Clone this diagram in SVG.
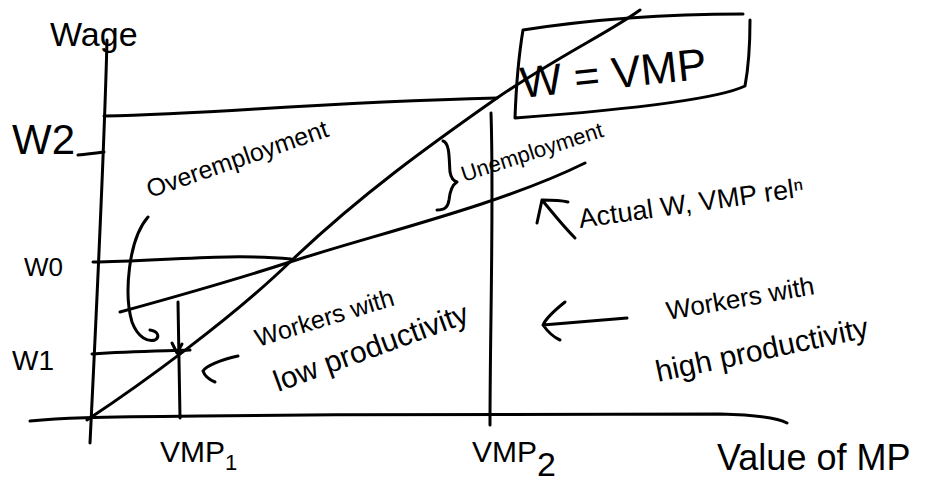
<svg xmlns="http://www.w3.org/2000/svg" width="946" height="489" viewBox="0 0 946 489">
  <style>
    .ink { fill: none; stroke: #000; stroke-width: 3; stroke-linecap: round; stroke-linejoin: round; }
    .hand { font-family: "Liberation Sans", "DejaVu Sans", sans-serif; fill: #000; }
  </style>
  <rect width="946" height="489" fill="#fff"/>

  <!-- axes -->
  <g id="axes" class="ink">
    <path d="M107,40 C104,160 97,300 90,443"/>
    <path d="M30,421 C60,418 90,417 200,416 C400,414 650,413 720,414 C760,415 780,419 787,423"/>
  </g>

  <!-- wage levels and VMP guides -->
  <g id="guides" class="ink">
    <path d="M104,116 C220,114 300,103 497,98"/>
    <path d="M78,155 C88,154 96,153 104,152"/>
    <path d="M93,262 C160,261 230,253 291,259"/>
    <path d="M92,354 C130,351 160,351 190,350"/>
    <path d="M178,302 L180,418"/>
    <path d="M172,343 L177,353 L182,344"/>
    <path d="M491,113 C494,200 490,330 490,425"/>
  </g>

  <!-- W = VMP line and actual wage line -->
  <g id="curves" class="ink">
    <path d="M87,420 C140,385 230,320 290,262 C360,195 430,145 497,98 C560,55 610,32 640,10"/>
    <path d="M120,312 C200,290 250,275 290,262 C380,233 500,205 585,163"/>
  </g>

  <!-- boxed rule -->
  <g id="rule-box">
    <path class="ink" d="M523,30 C600,18 680,14 743,14 M750,20 C750,45 748,70 745,86 C720,98 650,108 515,118 C516,90 518,60 523,30"/>
    <text class="hand" x="522" y="98" font-size="44" transform="rotate(-6 522 98)">W = VMP</text>
  </g>

  <!-- annotations -->
  <g id="annotations">
    <path class="ink" d="M148,217 C128,240 124,295 132,322 C138,338 148,342 155,340 C160,337 158,331 150,330"/>
    <path class="ink" d="M238,356 C220,360 206,366 203,371 C205,377 210,380 215,382"/>
    <path class="ink" d="M543,325 L627,318 M565,302 C555,310 546,318 543,325 C548,332 553,337 560,340"/>
    <path class="ink" d="M537,223 L542,200 C552,200 560,200 568,202 M542,200 C552,212 563,226 575,238"/>
    <path class="ink" d="M443,141 C450,143 449,160 450,172 C451,178 454,181 457,182 C452,185 450,190 449,200 C448,207 445,210 437,210"/>
  </g>

  <!-- labels -->
  <g id="labels" class="hand">
    <text x="50" y="46" font-size="34">Wage</text>
    <text x="12" y="154" font-size="42">W2</text>
    <text x="24" y="276" font-size="26">W0</text>
    <text x="12" y="370" font-size="28">W1</text>
    <text x="160" y="462" font-size="30">VMP<tspan font-size="22" dy="8">1</tspan></text>
    <text x="472" y="462" font-size="30">VMP<tspan font-size="34" dy="14">2</tspan></text>
    <text x="717" y="470" font-size="36">Value of MP</text>
    <text x="150" y="198" font-size="25" transform="rotate(-19 150 198)">Overemployment</text>
    <text x="464" y="182" font-size="22" transform="rotate(-18 464 182)">Unemployment</text>
    <text x="580" y="228" font-size="27" transform="rotate(-8 580 228)">Actual W, VMP relⁿ</text>
    <text x="258" y="347" font-size="25" transform="rotate(-17 258 347)">Workers with</text>
    <text x="278" y="392" font-size="30" transform="rotate(-20 278 392)">low productivity</text>
    <text x="668" y="320" font-size="26" transform="rotate(-10 668 320)">Workers with</text>
    <text x="658" y="382" font-size="30" transform="rotate(-12 658 382)">high productivity</text>
  </g>
</svg>
